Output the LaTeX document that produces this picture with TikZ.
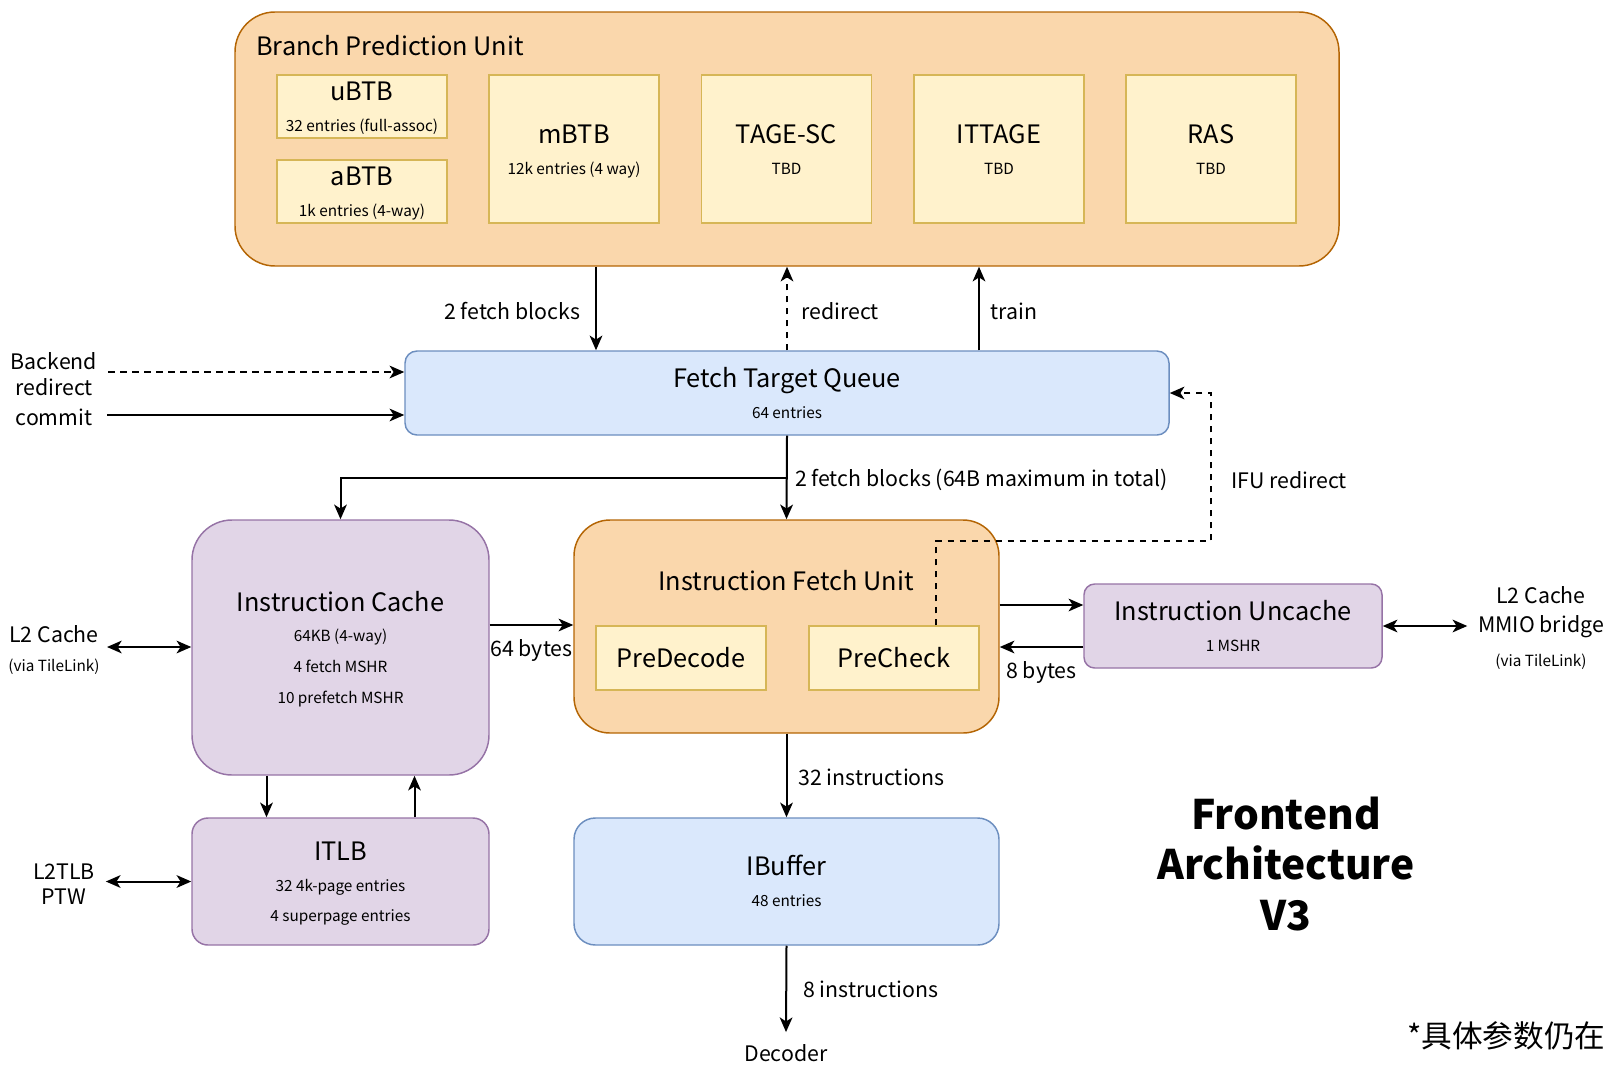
\documentclass[tikz,border=0pt]{standalone}
\usepackage{fontspec}
\setmainfont{Noto Sans CJK SC}
\usetikzlibrary{arrows.meta,calc}

\definecolor{orgfill}{HTML}{FAD7AC}
\definecolor{orgline}{HTML}{B46504}
\definecolor{yelfill}{HTML}{FFF2CC}
\definecolor{yelline}{HTML}{D6B656}
\definecolor{bluefill}{HTML}{DAE8FC}
\definecolor{blueline}{HTML}{6C8EBF}
\definecolor{purfill}{HTML}{E1D5E7}
\definecolor{purline}{HTML}{9673A6}

\newcommand{\bigtxt}{\fontsize{19}{23}\selectfont}
\newcommand{\smalltxt}{\fontsize{11.5}{23}\selectfont}
\newcommand{\edgetxt}{\fontsize{16}{19}\selectfont}
\newcommand{\boxlines}[1]{\raisebox{-2.7pt}[\height][\depth]{\begin{tabular}{@{}c@{}}#1\end{tabular}}}

\begin{document}
\begin{tikzpicture}[x=0.75pt,y=-0.75pt,
    sz/.style 2 args={minimum width=#1*0.75pt,minimum height=#2*0.75pt},
    box/.style={inner sep=0pt,font=\bigtxt,line width=1.1pt},
    orgbox/.style={box,draw=orgline,fill=orgfill},
    yelbox/.style={box,draw=yelline,fill=yelfill},
    bluebox/.style={box,draw=blueline,fill=bluefill},
    purbox/.style={box,draw=purline,fill=purfill},
    lbl/.style={font=\edgetxt,inner xsep=8pt,inner ysep=2pt},
    link/.style={line width=1.5pt,-{Stealth[length=11pt,width=9.5pt,inset=3pt]}},
    both/.style={line width=1.5pt,{Stealth[length=11pt,width=9.5pt,inset=3pt]}-{Stealth[length=11pt,width=9.5pt,inset=3pt]}},
    dashlink/.style={link,dash pattern=on 5pt off 4pt}]
    \useasboundingbox (0,0) rectangle (1605,1064);

    % branch prediction unit
    \node[orgbox,rounded corners=30pt,sz={1104}{254}] (bpu) at (787,139) {};
    \node[anchor=west,inner sep=0pt,font=\bigtxt] (bputitle) at (256,46) {Branch Prediction Unit};
    \node[yelbox,sz={170}{63}] (ubtb) at (362,106.5) {\boxlines{uBTB\\\smalltxt 32 entries (full-assoc)}};
    \node[yelbox,sz={170}{63}] (abtb) at (362,191.5) {\boxlines{aBTB\\\smalltxt 1k entries (4-way)}};
    \node[yelbox,sz={170}{148}] (mbtb) at (574,149) {\boxlines{mBTB\\\smalltxt 12k entries (4 way)}};
    \foreach \n/\t/\x in {tage/TAGE-SC/786.5,ittage/ITTAGE/999,ras/RAS/1211}
        \node[yelbox,sz={170}{148}] (\n) at (\x,149) {\boxlines{\t\\\smalltxt TBD}};

    % fetch target queue
    \node[bluebox,rounded corners=9pt,sz={764}{84}] (ftq) at (787,393) {\boxlines{Fetch Target Queue\\\smalltxt 64 entries}};
    \draw[link] ($(bpu.south)+(-191,0)$) -- node[lbl,left,xshift=-3pt,yshift=-2pt] (fetchlbl) {2 fetch blocks} ($(ftq.north)+(-191,0)$);
    \draw[dashlink] (ftq.north) -- node[lbl,right,xshift=2pt,yshift=-2pt] (redirlbl) {redirect} (ftq.north |- bpu.south);
    \draw[link] ($(ftq.north)+(192,0)$) -- node[lbl,right,yshift=-2pt] (trainlbl) {train} ($(bpu.south)+(192,0)$);

    \node[lbl,align=center] (backend) at (54,374) {Backend\\redirect};
    \node[lbl] (commit) at (54,417) {commit};
    \draw[dashlink] ($(backend.east)+(0,-2)$) coordinate (bk) -- (bk -| ftq.west);
    \draw[link] ($(commit.east)+(4,-2)$) coordinate (cm) -- (cm -| ftq.west);

    % caches and fetch unit
    \node[purbox,rounded corners=30pt,sz={297}{255}] (icache) at (340.5,647.5) {\boxlines{Instruction Cache\\\smalltxt 64KB (4-way)\\\smalltxt 4 fetch MSHR\\\smalltxt 10 prefetch MSHR}};
    \node[orgbox,rounded corners=27pt,sz={425}{213}] (ifu) at (786.5,626.5) {};
    \node[font=\bigtxt,inner sep=0pt] (ifutitle) at (786,581) {Instruction Fetch Unit};
    \node[yelbox,sz={170}{64}] (predecode) at (681,658) {PreDecode};
    \node[yelbox,sz={170}{64}] (precheck) at (894,658) {PreCheck};
    \node[purbox,rounded corners=8pt,sz={298}{84}] (uncache) at (1233,626) {\boxlines{Instruction Uncache\\\smalltxt 1 MSHR}};
    \node[purbox,rounded corners=12pt,sz={297}{127}] (itlb) at (340.5,881.5) {\boxlines{ITLB\\\smalltxt 32 4k-page entries\\\smalltxt 4 superpage entries}};
    \node[bluebox,rounded corners=16pt,sz={425}{127}] (ibuffer) at (786.5,881.5) {\boxlines{IBuffer\\\smalltxt 48 entries}};

    \coordinate (split) at ($(ftq.south)!0.5!(ifu.north)$);
    \draw[link] (ftq.south) -- (ifu.north);
    \draw[link] (split) -| (icache.north);
    \node[lbl,anchor=west,inner xsep=6pt,yshift=-2pt] (fetchlbl2) at (split) {2 fetch blocks (64B maximum in total)};

    \draw[dashlink] ($(precheck.north)+(42,0)$) |- (1211,541) |- (ftq.east);
    \node[lbl] (ifuredir) at (1289,480) {IFU redirect};

    \draw[link] ($(icache.east)+(0,-22.5)$) coordinate (ic) -- node[lbl,below,yshift=-8pt] (bytes64) {64 bytes} (ic -| ifu.west);
    \draw[link] ($(uncache.west)+(0,-21)$) coordinate (uc1) ++(0,0) (uc1 -| ifu.east) -- (uc1);
    \draw[link] ($(uncache.west)+(0,21)$) coordinate (uc2) -- node[lbl,below,yshift=-8pt] (bytes8) {8 bytes} (uc2 -| ifu.east);

    \draw[link] ($(icache.south)+(-74,0)$) coordinate (ic1) -- (ic1 |- itlb.north);
    \draw[link] ($(itlb.north)+(74,0)$) coordinate (it1) -- (it1 |- icache.south);

    % outside ports
    \node[lbl] (l2left) at (54,634) {L2 Cache};
    \node[font=\smalltxt] (l2leftsub) at (54,667) {(via TileLink)};
    \coordinate (l2port) at (107,647);
    \draw[both] (l2port) -- (l2port -| icache.west);
    \node[lbl,align=center] (l2tlb) at (64,884) {L2TLB\\PTW};
    \draw[both] (l2tlb.east |- itlb.west) -- (itlb.west);
    \node[lbl,align=center,font=\fontsize{16}{22}\selectfont] (mmio) at (1541,628) {L2 Cache\\MMIO bridge\\[3pt]\smalltxt (via TileLink)};
    \draw[both] (uncache.east) -- (uncache.east -| mmio.west);

    % to decode
    \node[lbl,inner ysep=9pt] (decoder) at (786,1053) {Decoder};
    \draw[link] (ifu.south) -- node[lbl,right,yshift=-1.5pt] (instr32) {32 instructions} (ibuffer.north);
    \draw[link] (ibuffer.south) -- node[lbl,right,xshift=4pt] (instr8) {8 instructions} (decoder.north);

    \node[align=center,font=\fontsize{30.5}{38}\selectfont\bfseries] (title) at (1286,864) {Frontend\\Architecture\\V3};
    \node[anchor=west,inner sep=0pt,font=\fontsize{23}{26}\selectfont] (note) at (1407,1036) {*具体参数仍在};
\end{tikzpicture}
\end{document}
